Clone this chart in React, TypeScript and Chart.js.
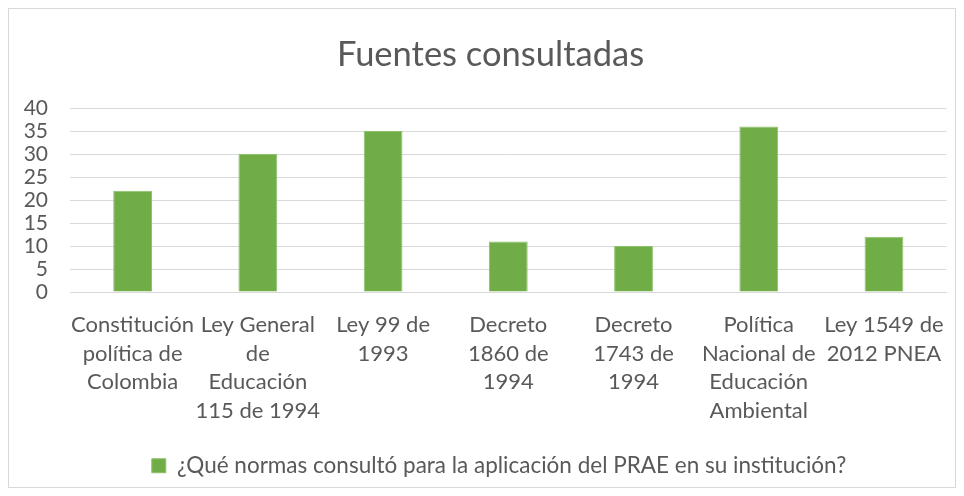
import React, { useEffect, useRef } from "react";
import { Chart, registerables } from "chart.js";

Chart.register(...registerables);

const categories: string[][] = [
  ["Constitución", "política de", "Colombia"],
  ["Ley General", "de", "Educación", "115 de 1994"],
  ["Ley 99 de", "1993"],
  ["Decreto", "1860 de", "1994"],
  ["Decreto", "1743 de", "1994"],
  ["Política", "Nacional de", "Educación", "Ambiental"],
  ["Ley 1549 de", "2012 PNEA"],
];
const values: number[] = [22, 30, 35, 11, 10, 36, 12];
const seriesLabel = "¿Qué normas consultó para la aplicación del PRAE en su institución?";
const chartTitle = "Fuentes consultadas";

const FONT = "Lato, 'Open Sans', sans-serif";

const shiftBoxes = {
  id: "shiftBoxes",
  afterLayout(chart: any) {
    const t = chart.titleBlock;
    if (t) {
      t.left += 7.5;
      t.right += 7.5;
    }
    const l = chart.legend;
    if (l) {
      l.left += 16;
      l.right += 16;
    }
  },
};

export default function App() {
  const ref = useRef<HTMLCanvasElement>(null);
  useEffect(() => {
    if (!ref.current) return;
    const chart = new Chart(ref.current, {
      type: "bar",
      data: {
        labels: categories,
        datasets: [
          {
            label: seriesLabel,
            data: values,
            backgroundColor: "#70AD47",
            borderColor: "#8CC26A",
            borderWidth: 1,
            categoryPercentage: 1,
            barPercentage: 0.31,
          },
        ],
      },
      plugins: [shiftBoxes],
      options: {
        animation: false,
        responsive: false,
        maintainAspectRatio: false,
        layout: { padding: { left: 10, right: 8, top: 0, bottom: 0 } },
        plugins: {
          title: {
            display: true,
            text: chartTitle,
            color: "#595959",
            font: { family: FONT, size: 34.5, weight: "normal", lineHeight: 1.2 },
            padding: { top: 25.3, bottom: 32.3 },
          },
          legend: {
            position: "bottom",
            labels: {
              color: "#595959",
              font: { family: FONT, size: 22.5, lineHeight: 1.1 },
              boxWidth: 14,
              boxHeight: 14,
              padding: 18.9,
            },
          },
          tooltip: { enabled: false },
        },
        scales: {
          x: {
            grid: { display: false },
            border: { display: true, color: "#d9d9d9" },
            ticks: {
              color: "#595959",
              font: { family: FONT, size: 22, lineHeight: 28.5 / 22 },
              maxRotation: 0,
              autoSkip: false,
              padding: 10.75,
            },
          },
          y: {
            min: 0,
            max: 40,
            grid: { color: "#d9d9d9", lineWidth: 1, drawTicks: false },
            border: { display: false },
            ticks: {
              stepSize: 5,
              autoSkip: false,
              color: "#595959",
              font: { family: FONT, size: 21 },
              padding: 22,
            },
            afterFit: (s: any) => {
              s.width = 51;
            },
          },
        },
      },
    });
    return () => chart.destroy();
  }, []);
  return (
    <div
      style={{
        width: 946,
        height: 478,
        border: "1px solid #d9d9d9",
        background: "#fff",
      }}
    >
      <canvas ref={ref} width={946} height={478} style={{ display: "block" }} />
    </div>
  );
}
